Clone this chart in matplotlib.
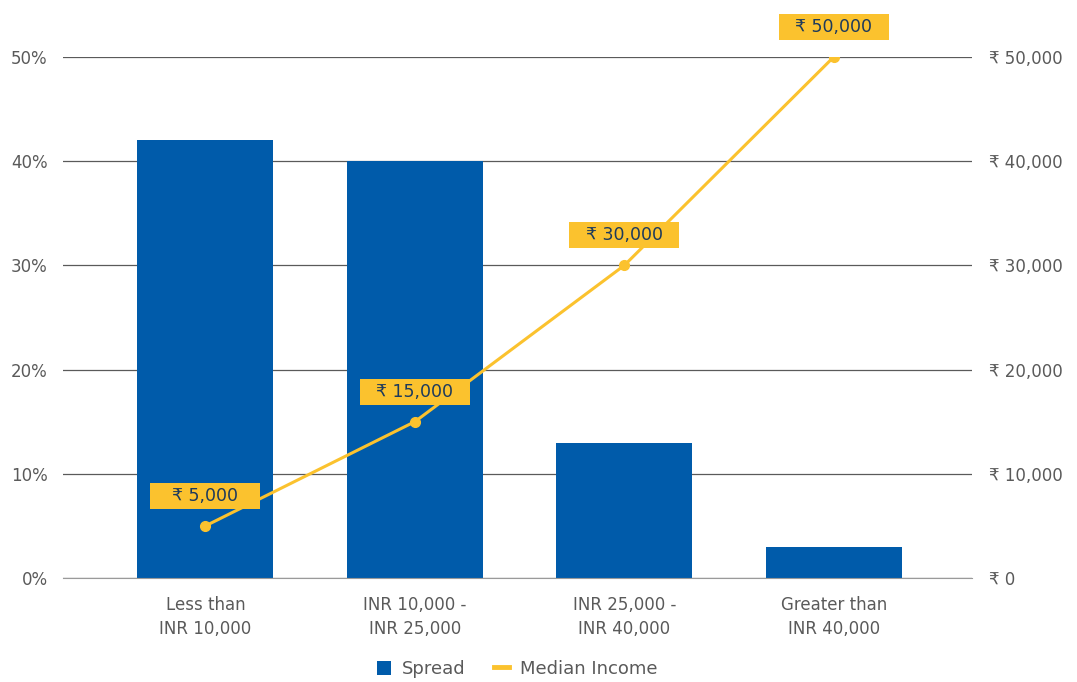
import numpy as np
import matplotlib.pyplot as plt
import matplotlib
from matplotlib.patches import Rectangle
from matplotlib.transforms import Affine2D, ScaledTranslation

matplotlib.rcParams['font.family'] = ['DejaVu Sans']
matplotlib.rcParams['font.size'] = 12

# Data
categories = ['Less than\nINR 10,000', 'INR 10,000 -\nINR 25,000',
              'INR 25,000 -\nINR 40,000', 'Greater than\nINR 40,000']
spread = [42, 40, 13, 3]
median_income = [5000, 15000, 30000, 50000]

blue = '#005BAA'
yellow = '#FBC22E'
grey = '#5a5a5a'

fig = plt.figure(figsize=(10.77, 6.82), dpi=100)
ax = fig.add_axes([0.0585, 0.1525, 0.844, 0.764])
ax2 = ax.twinx()

x = np.arange(len(categories))
ax.bar(x, spread, width=0.65, color=blue, label='Spread', zorder=2)
ax.set_ylim(0, 50)
ax.set_yticks([0, 10, 20, 30, 40, 50])
ax.set_yticklabels([f'{v}%' for v in [0, 10, 20, 30, 40, 50]])
ax.set_xlim(-0.68, 3.66)
ax.set_xticks(x)
ax.set_xticklabels(categories, linespacing=1.45)
ax.yaxis.grid(True, color=grey, linewidth=0.9, zorder=0)
ax.set_axisbelow(True)

ax2.plot(x, median_income, color=yellow, linewidth=2.2, marker='o',
         markersize=7, label='Median Income', zorder=3)
ax2.set_ylim(0, 50000)
ax2.set_yticks(np.arange(0, 50001, 10000))
ax2.set_yticklabels(['₹ 0'] + [f'₹ {v:,}' for v in range(10000, 50001, 10000)])

# fixed size label boxes (in pixels) above each point
for xi, v in zip(x, median_income):
    tr = Affine2D() + ScaledTranslation(xi, v, ax2.transData)
    ax2.add_patch(Rectangle((-55, 17), 110, 26, transform=tr, facecolor=yellow,
                            edgecolor='none', clip_on=False, zorder=5))
    ax2.annotate(f'₹ {v:,}', (xi, v), xytext=(0, 30 * 0.72), textcoords='offset points',
                 ha='center', va='center', color='#1d3a5c', fontsize=12.5,
                 annotation_clip=False, zorder=6)

for a in (ax, ax2):
    for s in a.spines.values():
        s.set_visible(False)
    a.tick_params(axis='y', length=0, colors=grey, labelsize=12)
    a.tick_params(axis='x', length=0, pad=13, colors=grey, labelsize=12)
ax.spines['bottom'].set_visible(True)
ax.spines['bottom'].set_color('#9a9a9a')
ax.tick_params(axis='y', pad=11)
ax2.tick_params(axis='y', pad=12)

h1, l1 = ax.get_legend_handles_labels()
h2 = [plt.Line2D([0], [0], color=yellow, linewidth=3.5)]
fig.legend(h1 + h2, l1 + ['Median Income'], loc='lower center', ncol=2,
           bbox_to_anchor=(0.48, -0.018), frameon=False, fontsize=13,
           labelcolor=grey, handlelength=0.8, handleheight=0.8,
           columnspacing=1.6, handletextpad=0.6)

fig.savefig('out.png', dpi=100)
